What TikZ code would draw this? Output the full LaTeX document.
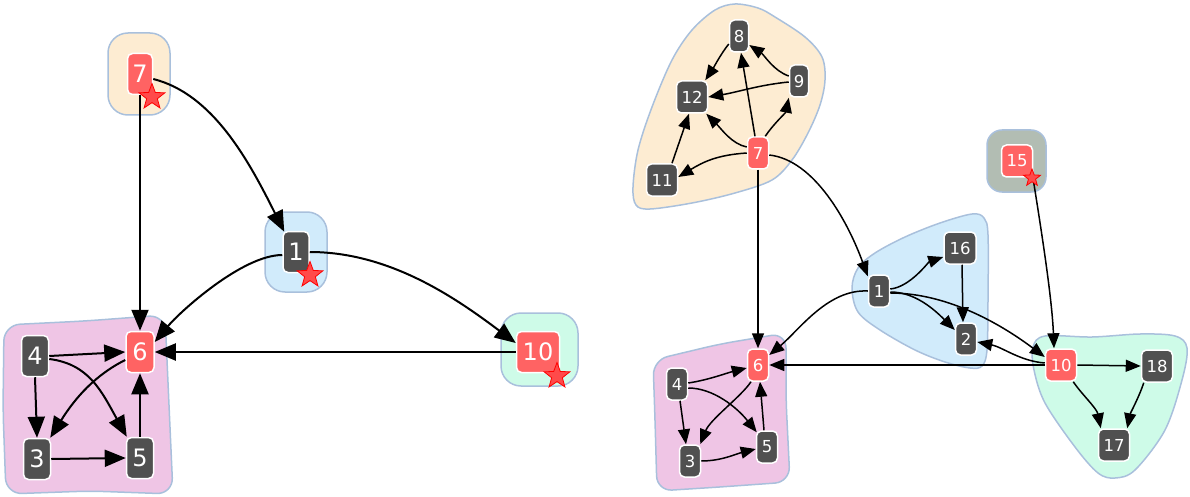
\documentclass[tikz,border=0pt]{standalone}
\usepackage{fontspec}
\setmainfont{DejaVu Sans}
\usetikzlibrary{arrows.meta,shapes.geometric,calc}
\definecolor{dk}{HTML}{505050}
\definecolor{rd}{HTML}{FF6363}
\definecolor{blobline}{HTML}{A9C0DC}
\definecolor{cyel}{HTML}{FDECD2}
\definecolor{cblu}{HTML}{D1EBFB}
\definecolor{cpnk}{HTML}{EFC5E5}
\definecolor{cmnt}{HTML}{CEFBE8}
\definecolor{cgry}{HTML}{B2BDB3}
\definecolor{starfill}{HTML}{FF4A4A}
\begin{document}
\begin{tikzpicture}[x=1pt,y=-1pt,
  vtx/.style={rectangle, rounded corners=5pt, draw=white, line width=1.5pt, text=white, inner sep=0pt},
  bigv/.style={vtx, minimum height=41pt, minimum width=27pt, font=\fontsize{24}{24}\selectfont},
  smallv/.style={vtx, minimum height=32pt, minimum width=21pt, font=\fontsize{16.5}{16.5}\selectfont},
  wide/.style={minimum width=31pt},
  dkv/.style={fill=dk}, rdv/.style={fill=rd},
  blob/.style={draw=blobline, line width=1.5pt},
  bigarr/.style={line width=2pt, -{Triangle[length=21pt,width=17pt]}},
  smallarr/.style={line width=1.5pt, -{Triangle[length=15pt,width=12pt]}},
  starmark/.style={star, star points=5, star point ratio=2.4, fill=starfill, draw=red, line width=0.8pt, inner sep=0pt}
]
\useasboundingbox (0,0) rectangle (1190,497);

% ---------- left blobs
\draw[blob, fill=cyel, rounded corners=20pt] (108,33) rectangle (170,115);
\draw[blob, fill=cblu, rounded corners=20pt] (265,212) rectangle (327,292);
\draw[blob, fill=cmnt, rounded corners=20pt] (501,313) rectangle (578,386);
\draw[blob, fill=cpnk, rounded corners=16pt] (4,325) -- (85,321) -- (165,315) -- (169,405) -- (173,494) -- (90,491) -- (6,494) -- (3,410) -- cycle;

% ---------- right blobs
\draw[blob, fill=cyel] plot[smooth cycle, tension=0.55] coordinates {(735,4) (758,8) (775,17) (805,37) (822,57) (825,80) (820,105) (808,133) (792,160) (772,180) (735,193) (692,203) (650,209) (636,205) (633,187) (638,150) (652,107) (672,60) (692,30) (715,10)};
\draw[blob, fill=cblu] plot[smooth cycle, tension=0.55] coordinates {(852,288) (858,268) (875,253) (905,237) (940,223) (972,214) (984,218) (988,235) (988,300) (987,350) (982,366) (970,368) (945,362) (915,350) (880,330) (858,312)};
\draw[blob, fill=cpnk, rounded corners=15pt] (653,360) -- (720,344) -- (786,333) -- (786,400) -- (790,482) -- (720,487) -- (657,491) -- (655,420) -- cycle;
\draw[blob, fill=cmnt] plot[smooth cycle, tension=0.55] coordinates {(1033,347) (1045,336) (1092,337) (1140,334) (1175,336) (1187,348) (1182,380) (1165,430) (1135,470) (1115,478) (1098,473) (1075,447) (1045,403) (1034,370)};
\draw[blob, fill=cgry, rounded corners=15pt] (987,130) rectangle (1046,192);

% ---------- left nodes
\node[bigv, rdv, minimum width=25pt] (l7) at (140,74) {7};
\node[bigv, dkv, minimum width=26pt] (l1) at (296,252) {1};
\node[bigv, rdv, minimum width=28pt] (l6) at (140,352) {6};
\node[bigv, dkv] (l4) at (35,356) {4};
\node[bigv, dkv] (l3) at (37,459) {3};
\node[bigv, dkv] (l5) at (140,458) {5};
\node[bigv, rdv, minimum width=43pt] (l10) at (538,352) {10};

% ---------- right nodes
\node[smallv, dkv, minimum width=19pt] (r8) at (739,36) {8};
\node[smallv, dkv, wide] (r12) at (692,97) {12};
\node[smallv, dkv, minimum width=19pt] (r9) at (799,81) {9};
\node[smallv, rdv] (r7) at (758,153) {7};
\node[smallv, dkv, wide] (r11) at (662,180) {11};
\node[smallv, rdv] (r6) at (758,365) {6};
\node[smallv, dkv] (r4) at (677,384) {4};
\node[smallv, dkv] (r3) at (690,461) {3};
\node[smallv, dkv] (r5) at (767,447) {5};
\node[smallv, dkv] (r1) at (879,291) {1};
\node[smallv, dkv, minimum width=32pt] (r16) at (960,248) {16};
\node[smallv, dkv] (r2) at (966,339) {2};
\node[smallv, rdv, wide] (r15) at (1017,161) {15};
\node[smallv, rdv, wide] (r10) at (1061,365) {10};
\node[smallv, dkv, wide] (r18) at (1157,366) {18};
\node[smallv, dkv, wide] (r17) at (1114,445) {17};

% ---------- left edges
\draw[bigarr] (l7.south) -- (l6.north);
\draw[bigarr] ($(l7.east)+(0,5)$) .. controls +(60,15) and +(-35,-70) .. ($(l1.north west)+(2,1)$);
\draw[bigarr] ($(l1.west)+(0,3)$) .. controls +(-40,0) and +(25,-30) .. ($(l6.east)+(0,-10)$);
\draw[bigarr] (l1.east) .. controls +(80,0) and +(-60,-45) .. ($(l10.west)+(0,-9)$);
\draw[bigarr] (l10.west) -- (l6.east);
\draw[bigarr] (l4.east) -- (l6.west);
\draw[bigarr] (l4.south) -- (l3.north);
\draw[bigarr] ($(l4.east)+(0,3)$) .. controls +(40,5) and +(-25,-45) .. ($(l5.north west)+(1,0)$);
\draw[bigarr] ($(l6.west)+(0,8)$) .. controls +(-30,15) and +(25,-40) .. ($(l3.north east)+(-1,0)$);
\draw[bigarr] (l3.east) -- (l5.west);
\draw[bigarr] (l5.north) -- (l6.south);

% ---------- right edges
\draw[smallarr] ($(r8.west)+(0,8)$) .. controls +(-8,10) and +(8,-12) .. ($(r12.north east)+(-3,0)$);
\draw[smallarr] ($(r9.west)+(0,-5)$) .. controls +(-15,-5) and +(15,10) .. ($(r8.east)+(0,9)$);
\draw[smallarr] ($(r9.west)+(0,1)$) .. controls +(-30,3) and +(30,-5) .. (r12.east);
\draw[smallarr] ($(r7.north)+(-3,0)$) -- ($(r8.south)+(2,0)$);
\draw[smallarr] ($(r7.north east)+(-4,0)$) .. controls +(8,-12) and +(-3,15) .. (r9.south west);
\draw[smallarr] ($(r7.west)+(0,-6)$) .. controls +(-15,-3) and +(15,15) .. ($(r12.south east)+(-2,0)$);
\draw[smallarr] (r7.west) .. controls +(-30,2) and +(25,-15) .. ($(r11.east)+(0,-3)$);
\draw[smallarr] ($(r11.north)+(10,0)$) -- ($(r12.south)+(-3,0)$);
\draw[smallarr] (r7.south) -- (r6.north);
\draw[smallarr] ($(r7.east)+(0,2)$) .. controls +(45,5) and +(-20,-55) .. ($(r1.north west)+(0,2)$);
\draw[smallarr] (r1.west) .. controls +(-40,-2) and +(30,-25) .. ($(r6.east)+(0,-10)$);
\draw[smallarr] ($(r1.east)+(0,-2)$) .. controls +(20,-2) and +(-15,5) .. ($(r16.west)+(0,9)$);
\draw[smallarr] ($(r1.east)+(0,1)$) .. controls +(25,0) and +(-20,-20) .. ($(r2.west)+(0,-9)$);
\draw[smallarr] ($(r16.south)+(2,0)$) -- ($(r2.north)+(-3,0)$);
\draw[smallarr] ($(r1.east)+(0,2)$) .. controls +(60,0) and +(-40,-30) .. ($(r10.west)+(0,-8)$);
\draw[smallarr] ($(r10.west)+(0,-2)$) .. controls +(-25,-2) and +(25,5) .. ($(r2.east)+(0,3)$);
\draw[smallarr] (r10.west) -- (r6.east);
\draw[smallarr] ($(r15.south east)+(0,2)$) .. controls +(8,50) and +(-2,-50) .. ($(r10.north)+(-7,0)$);
\draw[smallarr] (r10.east) -- (r18.west);
\draw[smallarr] ($(r10.south east)+(-4,0)$) .. controls +(8,12) and +(-4,-20) .. ($(r17.north west)+(3,0)$);
\draw[smallarr] ($(r18.south west)+(3,0)$) .. controls +(-5,15) and +(3,-15) .. ($(r17.north east)+(-3,0)$);
% right pink inner
\draw[smallarr] ($(r4.east)+(0,-1)$) .. controls +(20,-3) and +(-20,5) .. ($(r6.west)+(0,3)$);
\draw[smallarr] ($(r4.south)+(3,0)$) -- ($(r3.north)+(-4,0)$);
\draw[smallarr] ($(r4.east)+(0,4)$) .. controls +(25,0) and +(-20,-25) .. ($(r5.north west)+(1,2)$);
\draw[smallarr] ($(r6.south)+(-7,0)$) .. controls +(-10,15) and +(10,-25) .. ($(r3.north east)+(-1,0)$);
\draw[smallarr] (r3.east) .. controls +(20,0) and +(-20,5) .. ($(r5.west)+(0,2)$);
\draw[smallarr] ($(r5.north)+(-3,0)$) -- ($(r6.south)+(2,0)$);

% ---------- stars
\node[starmark, minimum size=27pt] (s7) at (152,97) {};
\node[starmark, minimum size=27pt] (s1) at (310,275) {};
\node[starmark, minimum size=27pt] (s10) at (557,376) {};
\node[starmark, minimum size=18pt] (s15) at (1032,178) {};
\end{tikzpicture}
\end{document}
